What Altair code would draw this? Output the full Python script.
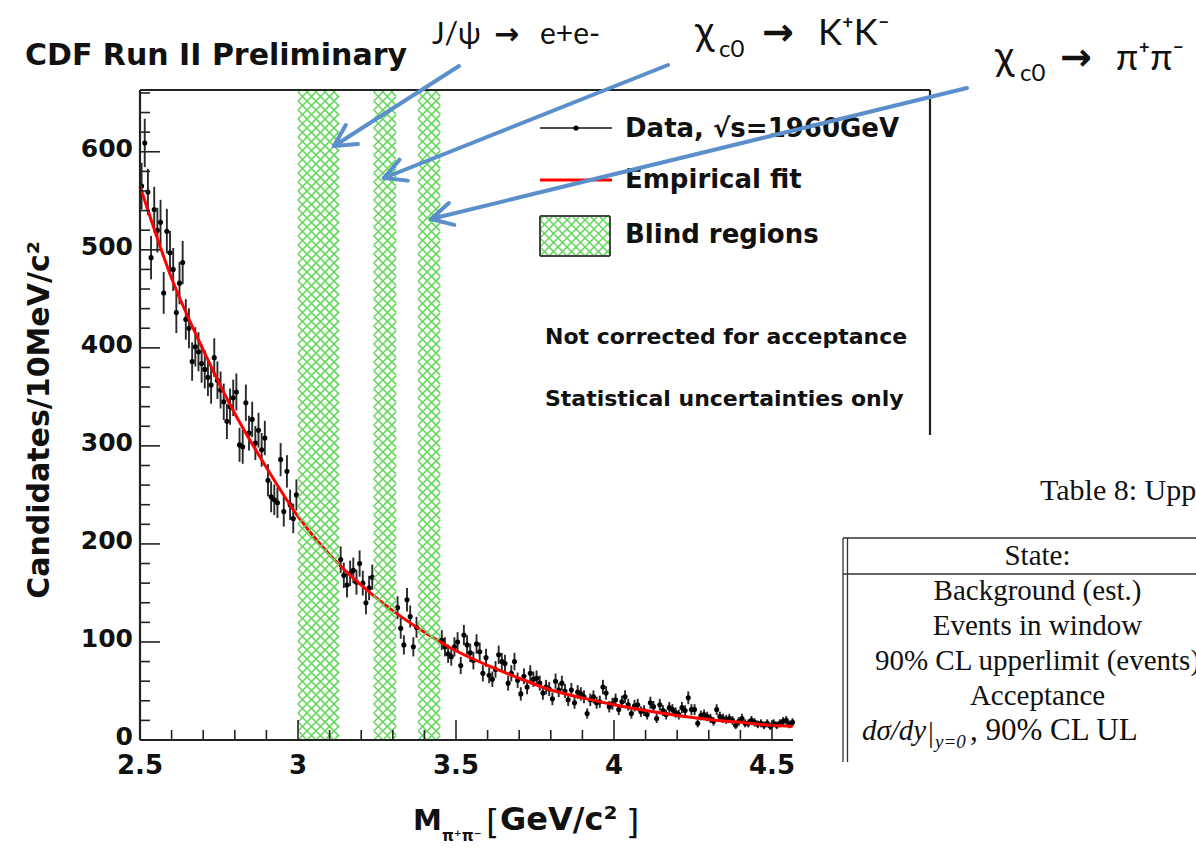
import numpy as np
import pandas as pd
import altair as alt

# ---------------- data ----------------
BIN = 0.01                                   # 10 MeV bins
seg_starts = [2.505, 3.135, 3.315, 3.455]    # first bin centre of each visible stretch
seg1 = [565, 609, 559, 492, 541, 520, 528, 456, 519, 497,
        480, 436, 466, 487, 429, 420, 386, 401, 396, 384,
        378, 370, 362, 390, 367, 357, 345, 325, 340, 349,
        355, 301, 299, 344, 313, 327, 303, 316, 296, 308,
        265, 248, 245, 242, 286, 233, 274, 240, 226, 250]
seg2 = [184, 168, 158, 170, 173, 161, 180, 160, 140, 155, 166]
seg3 = [135, 114, 97, 143, 126, 95, 115]
seg4 = [102, 95, 88, 85, 95, 100, 76, 107, 97, 89,
        81, 98, 90, 68, 84, 66, 62, 72, 87, 80,
        78, 58, 68, 80, 61, 47, 65, 54, 68, 62,
        63, 58, 48, 54, 52, 42, 60, 51, 58, 50,
        41, 51, 38, 49, 47, 44, 27, 41, 44, 38,
        39, 54, 48, 34, 37, 41, 31, 39, 44, 36,
        27, 35, 36, 29, 30, 26, 38, 34, 22, 36,
        30, 26, 33, 31, 28, 26, 33, 30, 43, 31,
        31, 17, 25, 26, 24, 22, 19, 31, 24, 22,
        21, 22, 20, 15, 19, 22, 17, 17, 20, 18,
        16, 17, 15, 17, 14, 17, 15, 17, 19, 20,
        16, 18]

fit_mass = [2.5, 2.6, 2.7, 2.8, 2.9, 3.0, 3.1, 3.2, 3.3, 3.4, 3.5,
            3.6, 3.7, 3.8, 3.9, 4.0, 4.1, 4.2, 4.3, 4.4, 4.5, 4.565]
fit_vals = [565, 471, 398, 333, 278, 228, 189, 158, 132, 110, 91,
            76, 63, 51, 43, 36, 30, 25, 21, 18, 15, 13.8]

blind_lo = [3.00, 3.24, 3.38]
blind_hi = [3.13, 3.31, 3.45]

x_labels = [2.5, 3.0, 3.5, 4.0, 4.5]
y_labels = [0, 100, 200, 300, 400, 500, 600]

legend_entries = ["Data, \u221as=1960GeV", "Empirical fit", "Blind regions"]
notes = ["Not corrected for acceptance", "Statistical uncertainties only"]
table_rows = ["Background (est.)", "Events in window",
              "90% CL upperlimit (events)", "Acceptance"]

# ---------------- geometry ----------------
XMIN, XMAX, YMAX = 2.5, 5.0, 663.0
W, H = 790, 650
LEFT, TOP = 140, 90
BOTTOM = TOP + H


def mx(px):
    return XMIN + (px - LEFT) * (XMAX - XMIN) / W


def cy(py):
    return YMAX * (BOTTOM - py) / H


def pxm(m):
    return LEFT + (m - XMIN) * W / (XMAX - XMIN)


SANS = "DejaVu Sans"
SERIF = "Liberation Serif"
ANNO = "Lato"
GREEN = "#66d85e"
BLUE = "#5b8fcb"
INK = "#111111"

XS = alt.Scale(domain=[XMIN, XMAX], nice=False, zero=False)
YS = alt.Scale(domain=[0, YMAX], nice=False, zero=False)

# ---------------- data table ----------------
rows = []
for start, vals in zip(seg_starts, [seg1, seg2, seg3, seg4]):
    for i, v in enumerate(vals):
        m = round(start + i * BIN, 4)
        e = float(np.sqrt(v))
        rows.append(dict(m=m, v=v, lo=v - e, hi=v + e, ml=m - BIN / 2, mh=m + BIN / 2))
data = pd.DataFrame(rows)
fit = pd.DataFrame({"m": fit_mass, "v": fit_vals})


def seg_layer(segs, color, width, cap="butt"):
    df = pd.DataFrame([dict(x1=mx(a), y1=cy(b), x2=mx(c), y2=cy(d)) for a, b, c, d in segs])
    return alt.Chart(df).mark_rule(color=color, strokeWidth=width, strokeCap=cap).encode(
        x=alt.X("x1:Q", scale=XS, axis=None),
        y=alt.Y("y1:Q", scale=YS, axis=None),
        x2="x2:Q", y2="y2:Q")


def hatch(px0, px1, pytop, pybot, step=9.0):
    w, h = px1 - px0, pybot - pytop
    out = []
    for k in range(-int(np.ceil(w / step)) - 1, int(np.ceil(h / step)) + 2):
        c = k * step
        us, ue = max(0.0, -c), min(w, h - c)
        if ue > us:
            out.append((px0 + us, pybot - (us + c), px0 + ue, pybot - (ue + c)))
    for k in range(0, int(np.ceil((w + h) / step)) + 2):
        c = k * step
        us, ue = max(0.0, c - h), min(w, c)
        if ue > us:
            out.append((px0 + us, pybot - (c - us), px0 + ue, pybot - (c - ue)))
    return out


def label(s, px, py, size, font=SANS, weight="normal", align="left",
          baseline="alphabetic", angle=0, color=INK, style="normal"):
    kw = dict(fontSize=size, font=font, fontWeight=weight, align=align,
              baseline=baseline, color=color, fontStyle=style)
    if angle:
        kw["angle"] = angle
    return alt.Chart(pd.DataFrame({"t": [s]})).mark_text(**kw).encode(
        text="t:N", x=alt.value(px - LEFT), y=alt.value(py - TOP))


layers = []

# ---------------- data, fit ----------------
errs = alt.Chart(data).mark_rule(color="#2a2a2a", strokeWidth=1.9).encode(
    x=alt.X("m:Q", scale=XS, axis=None), y=alt.Y("lo:Q", scale=YS, axis=None), y2="hi:Q")
herr = alt.Chart(data).mark_rule(color="#2a2a2a", strokeWidth=1.6).encode(
    x=alt.X("ml:Q", scale=XS, axis=None), x2="mh:Q", y=alt.Y("v:Q", scale=YS, axis=None))
pts = alt.Chart(data).mark_circle(size=26, color="#000000", opacity=1).encode(
    x=alt.X("m:Q", scale=XS, axis=None), y=alt.Y("v:Q", scale=YS, axis=None))
fitline = alt.Chart(fit).mark_line(color="#ff0000", strokeWidth=3, interpolate="monotone").encode(
    x=alt.X("m:Q", scale=XS, axis=None), y=alt.Y("v:Q", scale=YS, axis=None))
layers += [errs, herr, pts, fitline]

# ---------------- blind regions (cross-hatched) ----------------
hsegs = []
for lo, hi in zip(blind_lo, blind_hi):
    hsegs += hatch(pxm(lo), pxm(hi), TOP, BOTTOM)
layers.append(seg_layer(hsegs, GREEN, 1.6))

# ---------------- frame, inward ticks and tick labels ----------------
frame = [(LEFT, TOP, 930, TOP), (930, TOP, 930, 435),
         (LEFT, TOP, LEFT, BOTTOM), (LEFT, BOTTOM, 793, BOTTOM)]
ticks = []
for yv in range(0, 661, 20):
    ln = 20 if yv % 100 == 0 else 10
    py = BOTTOM - yv * H / YMAX
    ticks.append((LEFT, py, LEFT + ln, py))
for k in range(0, 21):
    mv = 2.5 + 0.1 * k
    ln = 20 if k % 5 == 0 else 10
    px = pxm(mv)
    ticks.append((px, BOTTOM, px, BOTTOM - ln))
layers.append(seg_layer(ticks, "#222222", 1.6))
layers.append(seg_layer(frame, "#222222", 2.2))

xl = pd.DataFrame({"m": x_labels, "t": [f"{v:g}" for v in x_labels]})
layers.append(alt.Chart(xl).mark_text(font=SANS, fontWeight="bold", fontSize=26, color=INK,
                                      align="center", baseline="top").encode(
    x=alt.X("m:Q", scale=XS, axis=None), y=alt.value(753 - TOP), text="t:N"))
yl = pd.DataFrame({"v": y_labels, "t": [str(v) for v in y_labels]})
layers.append(alt.Chart(yl).mark_text(font=SANS, fontWeight="bold", fontSize=25, color=INK,
                                      align="right", baseline="middle", dy=-3).encode(
    x=alt.value(133 - LEFT), y=alt.Y("v:Q", scale=YS, axis=None), text="t:N"))

# ---------------- legend ----------------
layers.append(seg_layer([(540, 128, 612, 128)], INK, 1.5))
layers.append(alt.Chart(pd.DataFrame({"m": [mx(576)], "v": [cy(128)]})).mark_circle(
    size=26, color="#000000", opacity=1).encode(
    x=alt.X("m:Q", scale=XS, axis=None), y=alt.Y("v:Q", scale=YS, axis=None)))
layers.append(seg_layer([(540, 180, 612, 180)], "#ff0000", 3))
layers.append(seg_layer(hatch(540, 610, 216, 256), GREEN, 1.6))
layers.append(seg_layer([(540, 216, 610, 216), (610, 216, 610, 256),
                         (610, 256, 540, 256), (540, 256, 540, 216)], "#444444", 2))
layers.append(label(legend_entries[0], 625, 137, 26, weight="bold"))
layers.append(label(legend_entries[1], 625, 188, 26, weight="bold"))
layers.append(label(legend_entries[2], 625, 243, 26, weight="bold"))
layers.append(label(notes[0], 545, 344, 22, weight="bold"))
layers.append(label(notes[1], 545, 406, 22, weight="bold"))

# ---------------- titles ----------------
layers.append(label("CDF Run II Preliminary", 25, 65, 30, weight="bold"))
layers.append(label("Candidates/10MeV/c\u00b2", 40, 420, 30, weight="bold",
                    align="center", baseline="middle", angle=270))
layers.append(label("M", 413, 830, 29, weight="bold"))
layers.append(label("\u03c0\u207a\u03c0\u207b", 442, 841, 15, weight="bold"))
layers.append(label("[", 486, 834, 34, weight="normal"))
layers.append(label("GeV/c\u00b2", 500, 830, 32, weight="bold"))
layers.append(label("]", 626, 834, 34, weight="normal"))

# ---------------- annotations ----------------
layers.append(label("J/\u03c8", 432, 44, 30, font=ANNO))
layers.append(label("\u2192", 494, 44, 30, font=SANS, weight="bold"))
layers.append(label("e+e-", 540, 44, 30, font=ANNO))

layers.append(label("\u03c7", 695, 45, 40, font=ANNO))
layers.append(label("c0", 719, 57, 24, font=ANNO))
layers.append(label("\u2192", 762, 45, 38, font=SANS, weight="bold"))
layers.append(label("K\u207aK\u207b", 818, 45, 36, font=ANNO))

layers.append(label("\u03c7", 995, 70, 40, font=ANNO))
layers.append(label("c0", 1020, 81, 24, font=ANNO))
layers.append(label("\u2192", 1060, 70, 38, font=SANS, weight="bold"))
layers.append(label("\u03c0\u207a\u03c0\u207b", 1116, 70, 36, font=ANNO))

arrows = [((459, 66), (334, 146)), ((668, 65), (384, 178)), ((967, 88), (431, 219))]
asegs = []
for (tx, ty), (hx, hy) in arrows:
    asegs.append((tx, ty, hx, hy))
    ang = np.arctan2(ty - hy, tx - hx)
    for sgn in (1, -1):
        a = ang + sgn * np.radians(28)
        asegs.append((hx, hy, hx + 24 * np.cos(a), hy + 24 * np.sin(a)))
layers.append(seg_layer(asegs, BLUE, 4, cap="round"))

# ---------------- table fragment ----------------
layers.append(label("Table 8: Upper limits", 1040, 500, 30, font=SERIF))
tlines = [(843, 538, 1196, 538), (843, 574, 1196, 574),
          (843, 538, 843, 762), (847.5, 538, 847.5, 762)]
layers.append(seg_layer(tlines, "#333333", 1.3))
layers.append(label("State:", 1037.5, 565, 29, font=SERIF, align="center"))
for i, r in enumerate(table_rows):
    layers.append(label(r, 1037.5, 600 + 35 * i, 29, font=SERIF, align="center"))
layers.append(label("d\u03c3/dy", 862, 740, 29, font=SERIF, style="italic"))
layers.append(label("|", 928, 742, 29, font=SERIF))
layers.append(label("y=0", 935, 748, 19, font=SERIF, style="italic"))
layers.append(label(", 90% CL UL", 970, 740, 31, font=SERIF))

chart = alt.layer(*layers).properties(
    width=W, height=H,
    autosize=alt.AutoSizeParams(type="none"),
    padding={"left": LEFT, "top": TOP, "right": 1196 - LEFT - W, "bottom": 850 - BOTTOM},
    background="white",
).configure_view(strokeWidth=0)

chart.save("out.html", embed_options={"renderer": "svg", "actions": False})
